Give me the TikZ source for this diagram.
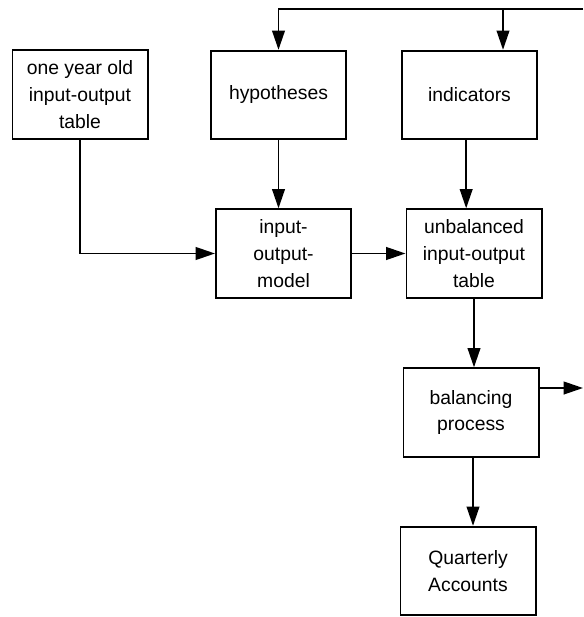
\documentclass[tikz,border=0pt]{standalone}
\usepackage{fontspec}
\setmainfont{Liberation Sans}
\usepackage{tikz}
\usetikzlibrary{arrows.meta,positioning,calc}

\begin{document}
\begin{tikzpicture}[x=0.03cm,y=-0.03cm,
  caixa/.style={draw, line width=1.7pt, minimum width=4.05cm,
    minimum height=2.65cm, align=center,
    font=\fontsize{16.5}{23}\selectfont},
  seta/.style={line width=1.7pt, -{Triangle[length=0.58cm,width=0.38cm]}}]
        \useasboundingbox (0,0) rectangle (583,617);
        % caixas
        \node[caixa] (tabela) at (80,94.5) {one year old\\input-output\\table};
        \node[caixa] (hipoteses) at (278.5,95) {hypotheses};
        \node[caixa] (indicadores) at (469.5,95) {indicators};
        \node[caixa] (modelo) at (283.5,253.5) {input-\\output-\\model};
        \node[caixa] (desequilibrada) at (474,253.5) {unbalanced\\input-output\\table};
        \node[caixa] (balanco) at (471,412.5) {balancing\\process};
        \node[caixa] (contas) at (468,571) {Quarterly\\Accounts};
        % pontas livres
        \coordinate (retorno) at (583,9);
        \coordinate (ramo) at (503,9);
        \coordinate (saida) at (583,388);
        % setas
        \draw[seta] (retorno) -| (hipoteses.north);
        \draw[seta] (ramo) -- (ramo |- indicadores.north);
        \draw[seta] (tabela.south) |- (modelo.west);
        \draw[seta] (hipoteses.south) -- (hipoteses.south |- modelo.north);
        \draw[seta] (modelo.east) -- (modelo.east -| desequilibrada.west);
        \draw[seta] ([xshift=-0.1cm]indicadores.south) -- ([xshift=-0.1cm]indicadores.south |- desequilibrada.north);
        \draw[seta] (desequilibrada.south) -- (desequilibrada.south |- balanco.north);
        \draw[seta] (balanco.east |- saida) -- (saida);
        \draw[seta] ([xshift=0.06cm]balanco.south) -- ([xshift=0.06cm]balanco.south |- contas.north);
      \end{tikzpicture}
\end{document}
